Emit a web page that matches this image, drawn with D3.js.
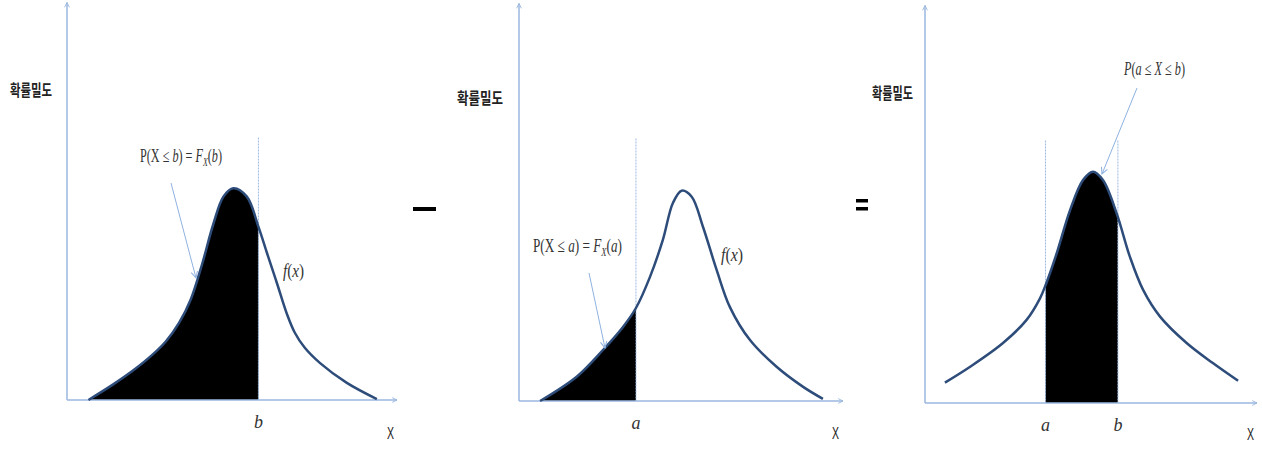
<!DOCTYPE html>
<html>
<head>
<meta charset="utf-8">
<script src="https://cdn.jsdelivr.net/npm/d3@7"></script>
<style>
  body { margin: 0; background: #fff; }
  svg { display: block; }
</style>
</head>
<body>
<div id="chart"></div>
<script>
// curve points (x: 0-100 along the axis, y: density units)
var panel1X = [6.5, 14, 20, 26, 30, 34, 37.5, 41, 44.3, 47.4, 50.4, 54.5, 58.0, 60.6, 63.6, 66.7, 69, 72, 76.7, 84.8, 93.9];
var panel1Y = [0, 5.2, 9.8, 15.2, 19.6, 25.8, 33.5, 45.5, 58.5, 67.8, 70.6, 67.8, 57.8, 49, 39, 28.5, 22.5, 17.5, 12.3, 5.7, 0.3];

var panel2X = [6.5, 17.8, 25.9, 32.1, 36.1, 40.4, 44.4, 47.5, 50.2, 53.3, 56.8, 61, 65.1, 71.3, 79.5, 87.7, 93.8];
var panel2Y = [0, 8.1, 17, 24.7, 31, 41.3, 53.7, 66, 70.1, 68.1, 58, 43.7, 31.3, 20.3, 11.4, 4.7, 0.7];

var panel3X = [6.0, 13.6, 23.5, 30.6, 34.6, 36.4, 39.7, 43.7, 47.6, 50.6, 53.6, 57.7, 61.7, 65.7, 70.8, 78.8, 86.7, 94.3];
var panel3Y = [6.8, 12.1, 20, 27.7, 34.8, 39.5, 50, 64.3, 74.3, 77.1, 74.3, 63.3, 48.8, 37.7, 28.8, 20, 13.3, 7.4];

// shaded ranges and cut markers
var shade1 = [0, 58.0];
var shade2 = [0, 36.1];
var shade3 = [36.3, 58.1];
var cuts1 = [{v: 58.0, name: "b"}];
var cuts2 = [{v: 36.1, name: "a"}];
var cuts3 = [{v: 36.3, name: "a"}, {v: 58.1, name: "b"}];

var yLabel = "확률밀도";
var xLabel = "X";

var W = 1262, H = 456;
var axisColor = "#9ab7df";
var curveColor = "#2d4c7a";
var textColor = "#333";

var svg = d3.select("#chart").append("svg")
    .attr("width", W)
    .attr("height", H);

var defs = svg.append("defs");
defs.append("marker")
    .attr("id", "axisArrow")
    .attr("viewBox", "0 0 10 10")
    .attr("refX", 9).attr("refY", 5)
    .attr("markerWidth", 6).attr("markerHeight", 6)
    .attr("markerUnits", "userSpaceOnUse")
    .attr("orient", "auto")
    .append("path")
    .attr("d", "M1,1 L9,5 L1,9")
    .attr("fill", "none")
    .attr("stroke", axisColor)
    .attr("stroke-width", 1.5);
defs.append("marker")
    .attr("id", "noteArrow")
    .attr("viewBox", "0 0 10 10")
    .attr("refX", 9).attr("refY", 5)
    .attr("markerWidth", 8).attr("markerHeight", 8)
    .attr("markerUnits", "userSpaceOnUse")
    .attr("orient", "auto")
    .append("path")
    .attr("d", "M1,1 L9,5 L1,9")
    .attr("fill", "none")
    .attr("stroke", "#8fb2e0")
    .attr("stroke-width", 1.3);

// draw math text from parts, then squeeze it sideways to the width seen in the picture
function mathText(g, x, y, parts, width, size) {
    var holder = g.append("g");
    var t = holder.append("text")
        .attr("x", 0).attr("y", 0)
        .attr("font-family", "Liberation Serif, serif")
        .attr("font-size", size)
        .attr("fill", textColor);
    var shifted = false;
    parts.forEach(function(p) {
        var s = t.append("tspan").text(p.t)
            .attr("font-style", p.i ? "italic" : "normal");
        if (p.sub) {
            s.attr("dy", 4).attr("font-size", size * 0.65);
            shifted = true;
        } else if (shifted) {
            s.attr("dy", -4);
            shifted = false;
        }
    });
    var natural = t.node().getComputedTextLength();
    holder.attr("transform", "translate(" + x + "," + y + ") scale(" + (width / natural) + ",1)");
    return t;
}

var panels = [
    {ox: 67, oy: 400, len: 330, xs: panel1X, ys: panel1Y, shade: shade1, cuts: cuts1,
     yl: [10, 96, 42], xl: [387, 439],
     notes: [{x: 140, y: 162, w: 82, size: 18, parts: [
        {t: "P(X ≤ "}, {t: "b", i: true}, {t: ") = "}, {t: "F", i: true}, {t: "X", i: true, sub: true},
        {t: "("}, {t: "b", i: true}, {t: ")"}]},
        {x: 283, y: 277, w: 21, size: 18, parts: [{t: "f", i: true}, {t: "("}, {t: "x", i: true}, {t: ")"}]}],
     arrow: [171, 183, 196, 278]},
    {ox: 519, oy: 401, len: 324, xs: panel2X, ys: panel2Y, shade: shade2, cuts: cuts2,
     yl: [457, 104, 46], xl: [832, 439],
     notes: [{x: 533, y: 252, w: 89, size: 19, parts: [
        {t: "P(X ≤ "}, {t: "a", i: true}, {t: ") = "}, {t: "F", i: true}, {t: "X", i: true, sub: true},
        {t: "("}, {t: "a", i: true}, {t: ")"}]},
        {x: 721, y: 261, w: 22, size: 19, parts: [{t: "f", i: true}, {t: "("}, {t: "x", i: true}, {t: ")"}]}],
     arrow: [589, 273, 605, 348]},
    {ox: 925, oy: 403, len: 332, xs: panel3X, ys: panel3Y, shade: shade3, cuts: cuts3,
     yl: [872, 99, 41], xl: [1247, 440],
     notes: [{x: 1124, y: 75, w: 61, size: 18, parts: [
        {t: "P", i: true}, {t: "("}, {t: "a", i: true}, {t: " ≤ "}, {t: "X", i: true}, {t: " ≤ "},
        {t: "b", i: true}, {t: ")"}]}],
     arrow: [1137, 88, 1102, 174]}
];

panels.forEach(function(p, idx) {
    var x = d3.scaleLinear().domain([0, 100]).range([p.ox, p.ox + p.len]);
    var y = d3.scaleLinear().domain([0, 100]).range([p.oy, p.oy - 300]);
    var g = svg.append("g").attr("class", "panel-" + idx);
    var pts = p.xs.map(function(v, i) { return {x: v, y: p.ys[i]}; });

    // shaded area under the curve
    defs.append("clipPath").attr("id", "clip" + idx)
        .append("rect")
        .attr("x", x(p.shade[0])).attr("y", 0)
        .attr("width", x(p.shade[1]) - x(p.shade[0]))
        .attr("height", H);
    var area = d3.area()
        .x(function(d) { return x(d.x); })
        .y0(y(0))
        .y1(function(d) { return y(d.y); })
        .curve(d3.curveCatmullRom);
    g.append("path")
        .datum(pts)
        .attr("d", area)
        .attr("fill", "#000")
        .attr("clip-path", "url(#clip" + idx + ")");

    // dashed cut lines
    g.selectAll(".cut").data(p.cuts).enter().append("line")
        .attr("x1", function(d) { return x(d.v); })
        .attr("x2", function(d) { return x(d.v); })
        .attr("y1", y(87.5)).attr("y2", y(0))
        .attr("stroke", "#9db8e0")
        .attr("stroke-width", 1)
        .attr("stroke-dasharray", "2,1");

    // axes
    g.append("line")
        .attr("x1", x(0)).attr("y1", y(0))
        .attr("x2", x(100)).attr("y2", y(0))
        .attr("stroke", axisColor).attr("stroke-width", 1.5)
        .attr("marker-end", "url(#axisArrow)");
    g.append("line")
        .attr("x1", x(0)).attr("y1", y(0))
        .attr("x2", x(0)).attr("y2", y(132.5))
        .attr("stroke", axisColor).attr("stroke-width", 1.5)
        .attr("marker-end", "url(#axisArrow)");

    // the density curve
    var line = d3.line()
        .x(function(d) { return x(d.x); })
        .y(function(d) { return y(d.y); })
        .curve(d3.curveCatmullRom);
    g.append("path")
        .datum(pts)
        .attr("d", line)
        .attr("fill", "none")
        .attr("stroke", curveColor)
        .attr("stroke-width", 2.5);

    // cut labels under the axis
    g.selectAll(".cutlabel").data(p.cuts).enter().append("text")
        .attr("x", function(d) { return x(d.v); })
        .attr("y", y(0) + 28)
        .attr("text-anchor", "middle")
        .attr("font-family", "Liberation Serif, serif")
        .attr("font-style", "italic")
        .attr("font-size", 18)
        .attr("fill", textColor)
        .text(function(d) { return d.name; });

    // axis titles
    g.append("text")
        .attr("x", p.yl[0]).attr("y", p.yl[1])
        .attr("font-family", "Noto Sans CJK KR, sans-serif")
        .attr("font-weight", "bold")
        .attr("font-size", 16)
        .attr("fill", "#222")
        .attr("textLength", p.yl[2])
        .attr("lengthAdjust", "spacingAndGlyphs")
        .text(yLabel);
    g.append("text")
        .attr("x", p.xl[0]).attr("y", p.xl[1])
        .attr("font-family", "Liberation Sans, sans-serif")
        .attr("font-size", 17)
        .attr("fill", "#222")
        .attr("textLength", 7)
        .attr("lengthAdjust", "spacingAndGlyphs")
        .text(xLabel);

    // annotations
    p.notes.forEach(function(n) { mathText(g, n.x, n.y, n.parts, n.w, n.size); });
    g.append("line")
        .attr("x1", p.arrow[0]).attr("y1", p.arrow[1])
        .attr("x2", p.arrow[2]).attr("y2", p.arrow[3])
        .attr("stroke", "#8fb2e0").attr("stroke-width", 1)
        .attr("marker-end", "url(#noteArrow)");
});

// the minus and equals signs between panels
svg.append("rect").attr("x", 413).attr("y", 207).attr("width", 23).attr("height", 4).attr("fill", "#000");
svg.append("rect").attr("x", 856).attr("y", 199).attr("width", 12).attr("height", 3.5).attr("fill", "#000");
svg.append("rect").attr("x", 856).attr("y", 207).attr("width", 12).attr("height", 3.5).attr("fill", "#000");
</script>
</body>
</html>
